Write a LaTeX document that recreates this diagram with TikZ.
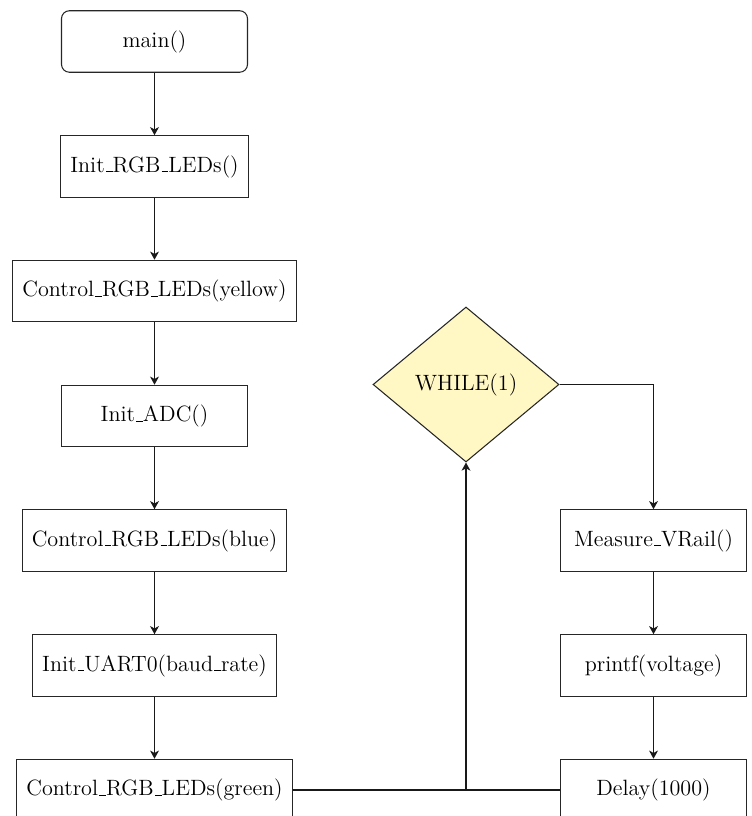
\documentclass[tikz,border=0pt]{standalone}
\usetikzlibrary{shapes.geometric,arrows.meta}
\definecolor{loopfill}{RGB}{255,247,196}
% short low rule, as the classic text underscore
\newcommand{\us}{\leavevmode\kern.06em\vbox{\hrule width.3em}}
\begin{document}
\begin{tikzpicture}[
  font=\fontsize{12.6}{14.5}\selectfont,
  box/.style={draw=black!85, line width=0.6pt, rectangle, minimum width=3.72cm,
    minimum height=1.23cm, inner xsep=5.5pt, align=center},
  startbox/.style={box, rounded corners=4.5pt},
  decision/.style={draw=black!85, line width=0.6pt, diamond, fill=loopfill,
    minimum width=3.72cm, minimum height=3.1cm, inner sep=0pt},
  flow/.style={line width=0.85pt, draw=black!90,
    -{Stealth[length=4.6pt,width=5pt,inset=1.3pt]}},
  wire/.style={line width=0.85pt, draw=black!90}
]
\useasboundingbox (0,0) rectangle (15.02,-16.32);

% main sequence (left column)
\node[startbox] (main)   at (3.09,-0.83)  {main()};
\node[box]      (init)   at (3.09,-3.33)  {Init\us RGB\us LEDs()};
\node[box]      (yellow) at (3.09,-5.82)  {Control\us RGB\us LEDs(yellow)};
\node[box]      (adc)    at (3.09,-8.32)  {Init\us ADC()};
\node[box]      (blue)   at (3.09,-10.81) {Control\us RGB\us LEDs(blue)};
\node[box]      (uart)   at (3.09,-13.31) {Init\us UART0(baud\us rate)};
\node[box]      (green)  at (3.09,-15.80) {Control\us RGB\us LEDs(green)};

% endless loop
\node[decision] (loop)   at (9.32,-7.69)  {WHILE(1)};
\node[box]      (vrail)  at (13.07,-10.81) {Measure\us VRail()};
\node[box]      (print)  at (13.07,-13.31) {printf(voltage)};
\node[box]      (delay)  at (13.07,-15.80) {Delay(1000)};

\coordinate (join) at (loop |- green);

\draw[flow] (main) -- (init);
\draw[flow] (init) -- (yellow);
\draw[flow] (yellow) -- (adc);
\draw[flow] (adc) -- (blue);
\draw[flow] (blue) -- (uart);
\draw[flow] (uart) -- (green);

\draw[flow] (loop.east) -| (vrail.north);
\draw[flow] (vrail) -- (print);
\draw[flow] (print) -- (delay);

\draw[wire] (green.east) -- (join) -- (delay.west);
\draw[flow] (join) -- (loop.south);
\end{tikzpicture}
\end{document}
